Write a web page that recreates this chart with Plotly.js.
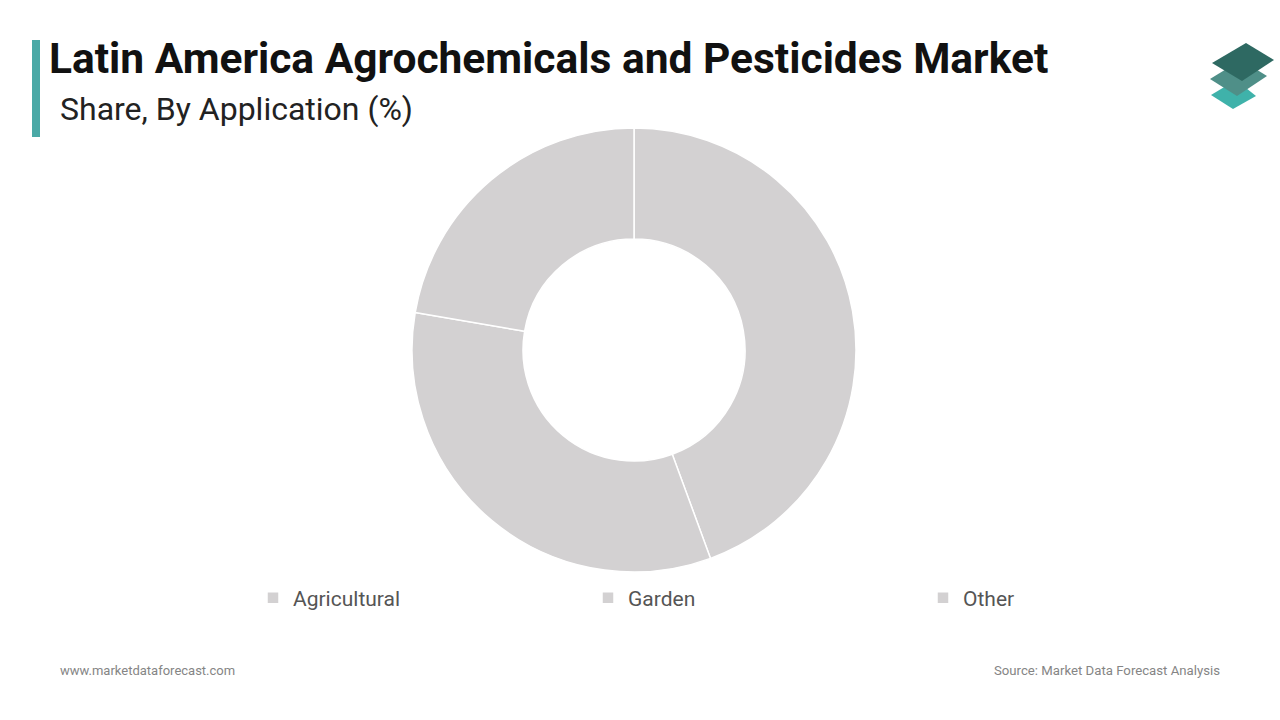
<!DOCTYPE html>
<html>
<head>
<meta charset="utf-8">
<script src="https://cdn.plot.ly/plotly-3.0.1.min.js"></script>
<style>
  html, body { margin: 0; padding: 0; background: #ffffff; }
  #chart { width: 1280px; height: 720px; }
</style>
</head>
<body>
<div id="chart"></div>
<script>
// ---- Data ----
const categories = ["Agricultural", "Garden", "Other"];
const shareValues = [44.4, 33.3, 22.3];
const titleText = "Latin America Agrochemicals and Pesticides Market";
const subtitleText = "Share, By Application (%)";
const footerLeft = "www.marketdataforecast.com";
const footerRight = "Source: Market Data Forecast Analysis";

// ---- Layout helpers (pixel -> paper) ----
const W = 1280, H = 720;
const px = x => x / W;
const py = y => 1 - y / H;
function polyPath(pts) {
  return pts.map((p, i) => (i ? "L" : "M") + px(p[0]).toFixed(5) + "," + py(p[1]).toFixed(5)).join(" ") + " Z";
}

const sliceGray = "#d3d1d2";

const trace = {
  type: "pie",
  labels: categories,
  values: shareValues,
  hole: 0.5,
  sort: false,
  direction: "clockwise",
  rotation: 0,
  textinfo: "none",
  hoverinfo: "label+percent",
  marker: { colors: categories.map(() => sliceGray), line: { color: "#ffffff", width: 1.5 } },
  domain: { x: [px(412), px(856)], y: [py(572), py(128)] }
};

const shapes = [
  // teal accent bar
  { type: "rect", xref: "paper", yref: "paper", x0: px(32), x1: px(40), y0: py(137), y1: py(40),
    fillcolor: "#4aa9a6", line: { width: 0 } },
  // logo layers (bottom to top)
  { type: "path", xref: "paper", yref: "paper", path: polyPath([[1211,95],[1236,80],[1256,96],[1233,109]]),
    fillcolor: "#3fb2aa", line: { width: 0 } },
  { type: "path", xref: "paper", yref: "paper", path: polyPath([[1210,79],[1241,60],[1267,76],[1237,96]]),
    fillcolor: "#4f8f88", line: { width: 0 } },
  { type: "path", xref: "paper", yref: "paper", path: polyPath([[1212,63],[1246,43],[1274,60],[1242,81]]),
    fillcolor: "#2e6962", line: { width: 0 } }
];

const annotations = [
  { text: "<b>" + titleText + "</b>", xref: "paper", yref: "paper", x: px(47), y: py(58),
    xanchor: "left", yanchor: "middle", showarrow: false,
    font: { family: "Roboto, Arial, sans-serif", size: 42.5, color: "#111111" } },
  { text: subtitleText, xref: "paper", yref: "paper", x: px(58), y: py(109),
    xanchor: "left", yanchor: "middle", showarrow: false,
    font: { family: "Roboto, Arial, sans-serif", size: 32, color: "#222222" } },
  { text: footerLeft, xref: "paper", yref: "paper", x: px(58), y: py(670),
    xanchor: "left", yanchor: "middle", showarrow: false,
    font: { family: "Roboto, Arial, sans-serif", size: 13, color: "#858585" } },
  { text: footerRight, xref: "paper", yref: "paper", x: px(1222), y: py(670),
    xanchor: "right", yanchor: "middle", showarrow: false,
    font: { family: "Roboto, Arial, sans-serif", size: 13.2, color: "#858585" } }
];

const layout = {
  width: W, height: H,
  margin: { l: 0, r: 0, t: 0, b: 0, pad: 0 },
  paper_bgcolor: "#ffffff",
  plot_bgcolor: "#ffffff",
  showlegend: true,
  legend: {
    orientation: "h",
    x: px(253), xanchor: "left",
    y: py(598), yanchor: "middle",
    entrywidth: 290, entrywidthmode: "pixels",
    font: { family: "Roboto, Arial, sans-serif", size: 21, color: "#555555" },
    bgcolor: "rgba(0,0,0,0)"
  },
  shapes: shapes,
  annotations: annotations
};

Plotly.newPlot("chart", [trace], layout, { displayModeBar: false, staticPlot: true });
</script>
</body>
</html>
